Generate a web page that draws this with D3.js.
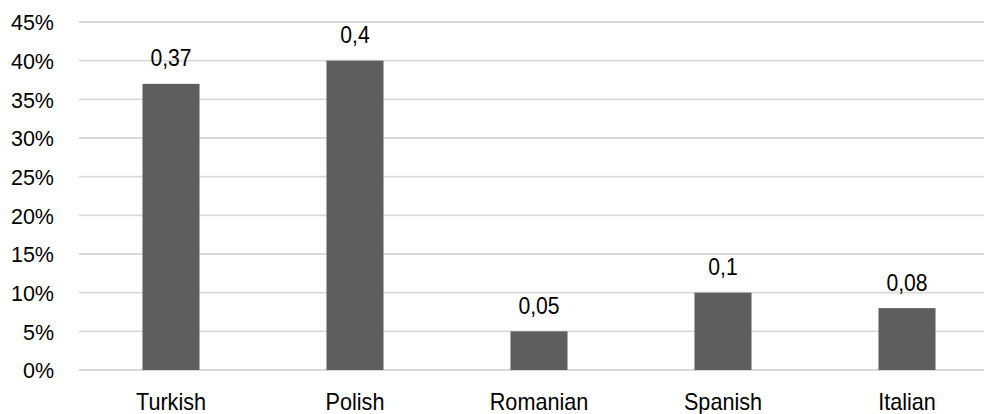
<!DOCTYPE html>
<html>
<head>
<meta charset="utf-8">
<script src="https://cdn.jsdelivr.net/npm/d3@7"></script>
<style>
  html, body { margin: 0; padding: 0; background: #fff; }
  svg { display: block; font-family: "Liberation Sans", Arial, sans-serif; }
</style>
</head>
<body>
<svg id="chart" width="984" height="414"></svg>
<script>
// Share of speakers by language
const categories = ["Turkish", "Polish", "Romanian", "Spanish", "Italian"];
const values = [0.37, 0.4, 0.05, 0.1, 0.08];
const valueLabels = ["0,37", "0,4", "0,05", "0,1", "0,08"];
const yTicks = [0, 0.05, 0.1, 0.15, 0.2, 0.25, 0.3, 0.35, 0.4, 0.45];

const svg = d3.select("#chart");
const W = 984, H = 414;
const plot = { left: 79, right: 999, top: 22, bottom: 370 };

const x = d3.scaleBand()
  .domain(categories)
  .range([plot.left, plot.right])
  .paddingInner(0.69)
  .paddingOuter(0.345);

const y = d3.scaleLinear()
  .domain([0, 0.45])
  .range([plot.bottom, plot.top]);

// Horizontal gridlines
svg.append("g")
  .selectAll("line")
  .data(yTicks)
  .join("line")
  .attr("x1", plot.left)
  .attr("x2", W)
  .attr("y1", d => y(d))
  .attr("y2", d => y(d))
  .attr("stroke", "#d9d9d9")
  .attr("stroke-width", 1.8);

// Y axis labels
const yAxis = d3.axisLeft(y)
  .tickValues(yTicks)
  .tickFormat(d => Math.round(d * 100) + "%")
  .tickSize(0)
  .tickPadding(0);

const gy = svg.append("g")
  .attr("transform", "translate(54,0)")
  .call(yAxis);
gy.select(".domain").remove();
gy.selectAll("text")
  .attr("font-family", "'Liberation Sans', Arial, sans-serif")
  .attr("font-size", 21.5)
  .attr("fill", "#000")
  .attr("dy", "0.36em");

// Bars
svg.append("g")
  .selectAll("rect")
  .data(values)
  .join("rect")
  .attr("x", (d, i) => x(categories[i]))
  .attr("width", x.bandwidth())
  .attr("y", d => y(d))
  .attr("height", d => y(0) - y(d))
  .attr("fill", "#5e5e5e");

// Value labels above bars (slightly condensed lettering)
svg.append("g")
  .selectAll("text")
  .data(values)
  .join("text")
  .attr("transform", (d, i) =>
    `translate(${x(categories[i]) + x.bandwidth() / 2},${y(d) - 17.5}) scale(0.9,1)`)
  .attr("text-anchor", "middle")
  .attr("font-size", 23.5)
  .attr("fill", "#000")
  .text((d, i) => valueLabels[i]);

// Category axis labels
const xAxis = d3.axisBottom(x).tickSize(0).tickPadding(0);
const gx = svg.append("g")
  .attr("transform", `translate(0,${plot.bottom})`)
  .call(xAxis);
gx.select(".domain").remove();
gx.selectAll("text")
  .attr("font-family", "'Liberation Sans', Arial, sans-serif")
  .attr("font-size", 23)
  .attr("fill", "#000")
  .attr("dy", null)
  .attr("y", null)
  .attr("transform", "translate(0,39.5) scale(0.94,1)");
</script>
</body>
</html>
